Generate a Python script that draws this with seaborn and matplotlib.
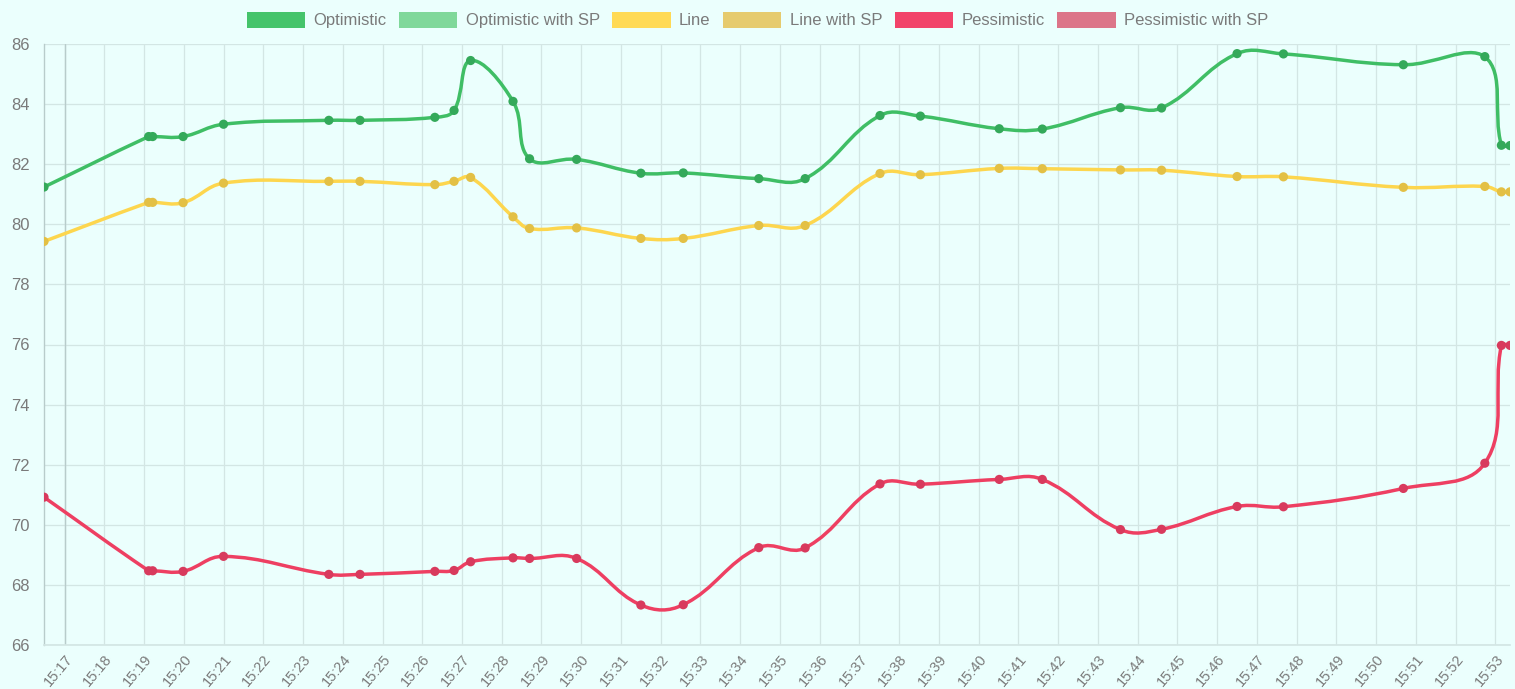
import numpy as np
import pandas as pd
import matplotlib
matplotlib.use("Agg")
import matplotlib.pyplot as plt
import matplotlib.dates as mdates
from matplotlib.path import Path
from matplotlib.patches import PathPatch, Patch
import seaborn as sns

# sample times (HH:MM:SS)
times = ["15:16:29", "15:19:07", "15:19:13", "15:19:59", "15:21:00", "15:23:39",
         "15:24:26", "15:26:19", "15:26:48", "15:27:13", "15:28:17", "15:28:42",
         "15:29:53", "15:31:30", "15:32:34", "15:34:28", "15:35:38", "15:37:31",
         "15:38:32", "15:40:31", "15:41:36", "15:43:34", "15:44:36", "15:46:30",
         "15:47:40", "15:50:41", "15:52:44", "15:53:09", "15:53:22"]

optimistic = [81.24, 82.92, 82.92, 82.92, 83.33, 83.46, 83.46, 83.56, 83.79, 85.45,
              84.09, 82.18, 82.16, 81.70, 81.71, 81.52, 81.52, 83.62, 83.60, 83.18,
              83.17, 83.88, 83.87, 85.68, 85.67, 85.31, 85.58, 82.63, 82.62]
line = [79.43, 80.73, 80.73, 80.72, 81.37, 81.43, 81.43, 81.32, 81.43, 81.56,
        80.25, 79.86, 79.88, 79.53, 79.53, 79.96, 79.96, 81.69, 81.65, 81.86,
        81.85, 81.81, 81.80, 81.59, 81.58, 81.23, 81.26, 81.08, 81.08]
pessimistic = [70.92, 68.47, 68.47, 68.45, 68.95, 68.35, 68.35, 68.45, 68.48, 68.77,
               68.90, 68.88, 68.88, 67.33, 67.34, 69.24, 69.23, 71.36, 71.35, 71.51,
               71.51, 69.84, 69.85, 70.61, 70.60, 71.21, 72.05, 75.97, 75.97]

legend_names = ["Optimistic", "Optimistic with SP", "Line", "Line with SP",
                "Pessimistic", "Pessimistic with SP"]
legend_colors = ["#45c46b", "#7fd89a", "#ffda55", "#e6cb6e", "#f2446a", "#dc7589"]

drawn = ["Optimistic", "Line", "Pessimistic"]
line_colors = {"Optimistic": "#3fbe65", "Line": "#fdd64e", "Pessimistic": "#ee3f62"}
point_colors = {"Optimistic": "#34a95a", "Line": "#e3c045", "Pessimistic": "#d83a5d"}

bg = "#ebfffd"
grid_c = "#d3e6e4"
dark_c = "#b8cccb"
text_c = "#7a7a7a"

sns.set_theme(style="white")
plt.rcParams['font.family'] = ['Liberation Sans', 'DejaVu Sans']
plt.rcParams['font.size'] = 12

df = pd.DataFrame({"time": pd.to_datetime("2021-01-01 " + pd.Series(times)),
                   "Optimistic": optimistic, "Line": line, "Pessimistic": pessimistic})
long = df.melt(id_vars="time", var_name="series", value_name="value")

W, H = 1515, 689
fig = plt.figure(figsize=(W / 100, H / 100), dpi=100, facecolor=bg)
ax = fig.add_axes([44 / W, 1 - 645 / H, (1510 - 44) / W, (645 - 44) / H])
ax.set_facecolor(bg)

sns.scatterplot(data=long, x="time", y="value", hue="series", palette=point_colors,
                s=44, linewidth=0, legend=False, zorder=4, ax=ax)

ax.set_xlim(df["time"].min(), df["time"].max())
ax.set_ylim(66, 86)
ax.set_yticks(np.arange(66, 87, 2))
ax.xaxis.set_major_locator(mdates.MinuteLocator())
ax.xaxis.set_major_formatter(mdates.DateFormatter("%H:%M"))
ax.set_xlabel("")
ax.set_ylabel("")


def chartjs_curve(ax, xs, ys, tension=0.4):
    # same control points as Chart.js bezier lines, worked out in pixel space
    pts = ax.transData.transform(np.column_stack([xs, ys]))
    n = len(pts)
    cp_in = pts.copy()
    cp_out = pts.copy()
    for i in range(n):
        prev = pts[max(i - 1, 0)]
        cur = pts[i]
        nxt = pts[min(i + 1, n - 1)]
        d01 = np.hypot(*(cur - prev))
        d12 = np.hypot(*(nxt - cur))
        tot = d01 + d12
        s01 = d01 / tot if tot else 0
        s12 = d12 / tot if tot else 0
        cp_in[i] = cur - tension * s01 * (nxt - prev)
        cp_out[i] = cur + tension * s12 * (nxt - prev)
    bb = ax.bbox
    for arr in (cp_in, cp_out):
        arr[:, 0] = np.clip(arr[:, 0], bb.x0, bb.x1)
        arr[:, 1] = np.clip(arr[:, 1], bb.y0, bb.y1)
    verts = [pts[0]]
    codes = [Path.MOVETO]
    for i in range(n - 1):
        verts += [cp_out[i], cp_in[i + 1], pts[i + 1]]
        codes += [Path.CURVE4] * 3
    verts = ax.transData.inverted().transform(np.array(verts))
    return Path(verts, codes)


xnum = mdates.date2num(df["time"])
for name in drawn:
    path = chartjs_curve(ax, xnum, df[name].values)
    ax.add_patch(PathPatch(path, fill=False, edgecolor=line_colors[name],
                           lw=2.5, capstyle="round", joinstyle="round", zorder=3))

# grid and axes
ax.grid(True, color=grid_c, lw=0.9, zorder=0)
ax.set_axisbelow(True)
for side in ["top", "right"]:
    ax.spines[side].set_visible(False)
ax.spines["bottom"].set_color(grid_c)
ax.spines["left"].set_color(dark_c)
ax.spines["left"].set_linewidth(1)

ax.tick_params(axis="both", colors=grid_c, labelcolor=text_c, width=0.9)
ax.tick_params(axis="y", pad=3, length=7, labelsize=12)
ax.tick_params(axis="x", pad=0, length=5, labelsize=10.5)
for lab in ax.get_xticklabels():
    lab.set_rotation(50)
    lab.set_ha("right")
    lab.set_rotation_mode("anchor")

# first minute gridline is drawn darker, like the chart's zero line
xt = [t for t in ax.get_xticks() if t >= xnum.min()]
ax.axvline(min(xt), color=dark_c, lw=1, zorder=1)

handles = [Patch(facecolor=c, edgecolor="none") for c in legend_colors]
fig.legend(handles, legend_names, loc="center", bbox_to_anchor=(0.5, 1 - 20 / H),
           ncol=6, frameon=False, handlelength=3.5, handleheight=1.1,
           handletextpad=0.5, columnspacing=0.75, labelcolor=text_c, fontsize=12)

fig.savefig("out.png", dpi=100, facecolor=bg)
